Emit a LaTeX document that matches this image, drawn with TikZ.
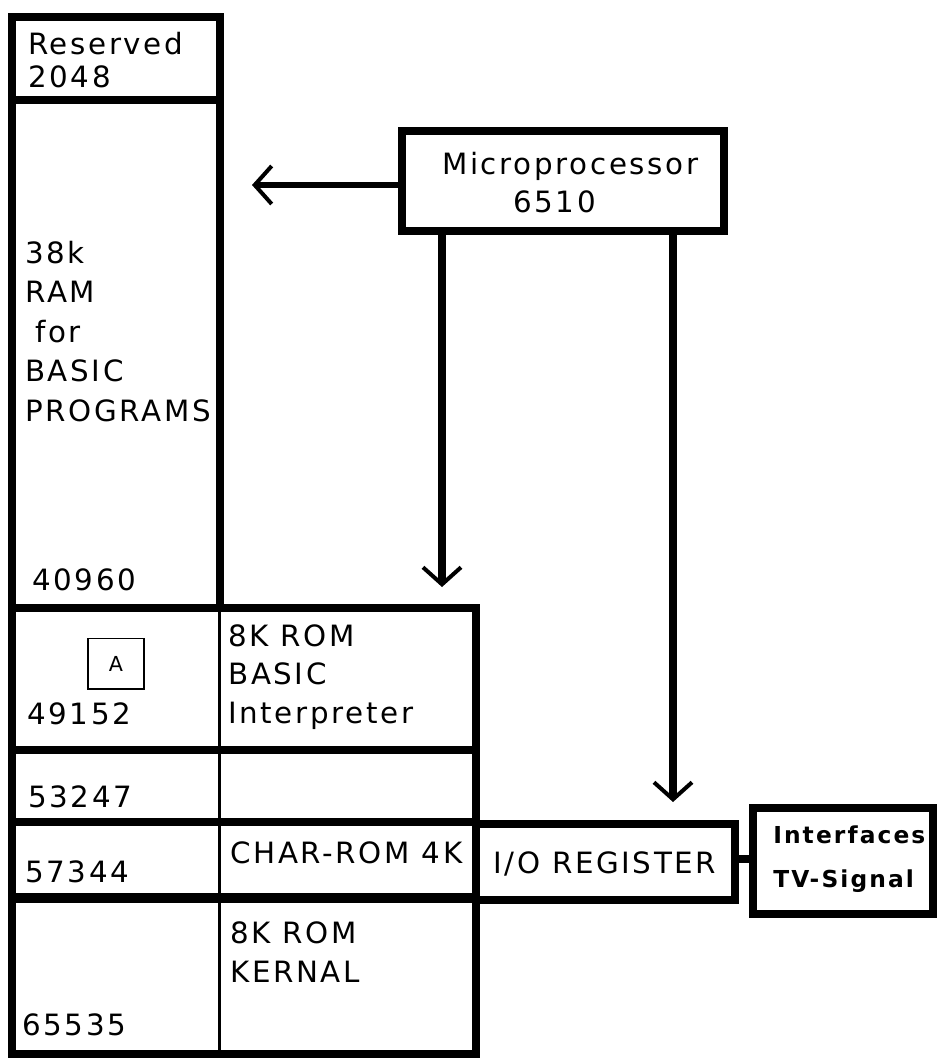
\documentclass[tikz,border=0pt]{standalone}
\usepackage{fontspec}
\setmainfont{DejaVu Sans}[LetterSpace=9]
\usetikzlibrary{arrows.meta}
\begin{document}
\begin{tikzpicture}[x=0.75pt,y=-0.75pt,
  heavy/.style={line width=6pt},
  slim/.style={line width=2.25pt},
  lbl/.style={anchor=base west, inner sep=0pt, font=\fontsize{22}{26}\selectfont},
  blbl/.style={anchor=base west, inner sep=0pt, font=\fontsize{17.5}{20}\selectfont\bfseries},
  boxnode/.style={draw, heavy, inner sep=0pt, line join=miter},
  barb/.style={-{Straight Barb[length=12.75pt,width=28.5pt,line width=3pt]}}
]
\useasboundingbox (0,0) rectangle (937,1059);
% memory map frame
\draw[heavy, line join=miter] (12,17) -- (220,17) -- (220,608) -- (476,608) -- (476,1054) -- (12,1054) -- cycle;
\draw[heavy] (12,100) -- (220,100);
\draw[heavy] (12,608) -- (220,608);
\draw[heavy] (12,750) -- (476,750);
\draw[heavy] (12,822) -- (476,822);
\draw[line width=8pt] (12,898) -- (476,898);
\draw[slim] (219,608) -- (219,1054);
% boxes
\node[boxnode, minimum width=241.5pt, minimum height=75pt] (micro) at (563,181) {};
\node[boxnode, minimum width=194.25pt, minimum height=57pt] (io) at (605.5,862) {};
\node[boxnode, minimum width=135pt, minimum height=79.5pt] (ifc) at (843,861) {};
\node[draw, line width=1pt, inner sep=0pt, minimum width=42pt, minimum height=38pt, font=\fontsize{15.5}{18}\selectfont] (abox) at (116,663.5) {A};
% connectors
\coordinate (ramtip) at (252,185);
\coordinate (romtip) at (442,587);
\coordinate (iotip) at (673,802);
\draw[line width=4.5pt, barb] (micro.west |- ramtip) -- (ramtip);
\draw[heavy, barb] (micro.south -| romtip) -- (romtip);
\draw[heavy, barb] (micro.south -| iotip) -- (iotip);
\draw[heavy] (io.east |- 0,859) -- (ifc.west |- 0,859);
% texts
\node[lbl] (t1) at (28,55) {Reserved};
\node[lbl] (t2) at (28,88) {2048};
\node[lbl] (t3) at (25,263) {38k};
\node[lbl] (t4) at (25,302) {RAM};
\node[lbl] (t5) at (35,342) {for};
\node[lbl] (t6) at (25,381) {BASIC};
\node[lbl] (t7) at (25,421) {PROGRAMS};
\node[lbl] (t8) at (32,590) {40960};
\node[lbl] (t9) at (27,724) {49152};
\node[lbl] (t10) at (228,646) {8K ROM};
\node[lbl] (t11) at (228,684) {BASIC};
\node[lbl] (t12) at (228,723) {Interpreter};
\node[lbl] (t13) at (28,807) {53247};
\node[lbl] (t14) at (230,863) {CHAR-ROM 4K};
\node[lbl] (t15) at (25,882) {57344};
\node[lbl] (t16) at (230,943) {8K ROM};
\node[lbl] (t17) at (230,982) {KERNAL};
\node[lbl] (t18) at (22,1035) {65535};
\node[lbl] (t19) at (442,175) {Microprocessor};
\node[lbl] (t20) at (513,213) {6510};
\node[lbl] (t21) at (493,873) {I/O REGISTER};
\node[blbl] (t22) at (773,843) {Interfaces};
\node[blbl] (t23) at (773,887) {TV-Signal};
\end{tikzpicture}
\end{document}
